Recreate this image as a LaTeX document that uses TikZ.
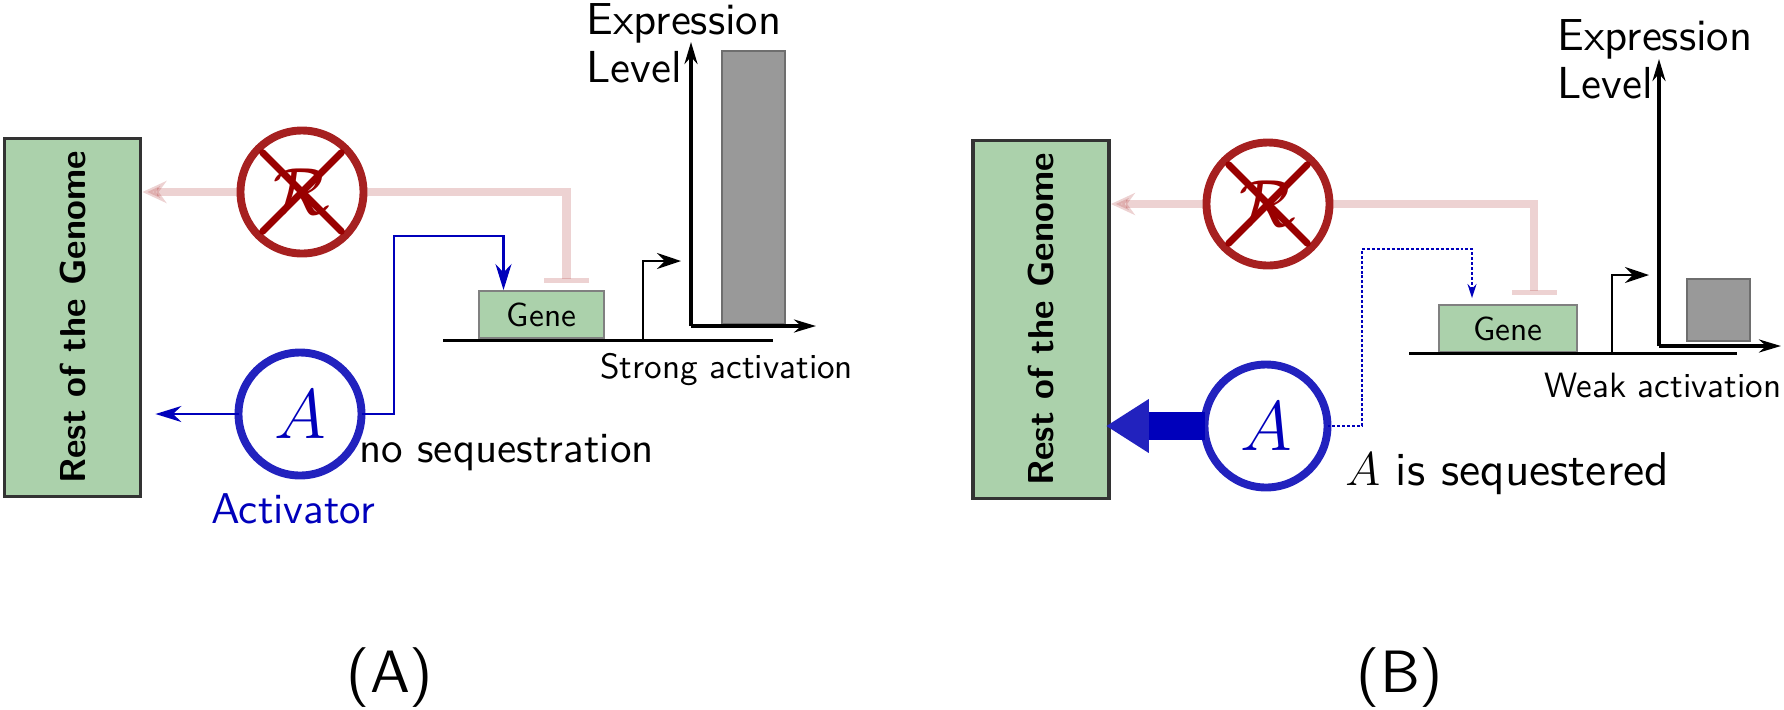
\RequirePackage{fix-cm}
\documentclass[tikz,border=0pt]{standalone}
\usepackage{amsmath}
\usepackage{fontspec}
\setsansfont{lmsans10-regular.otf}[BoldFont=lmsans10-bold.otf, Ligatures=TeX]
\usepackage{graphicx}
\usepackage{xcolor}
\usepackage{tikz}
\usetikzlibrary{positioning, arrows.meta, calc}
\renewcommand{\familydefault}{\sfdefault}

\definecolor{genomegreen}{RGB}{171,209,171}
\definecolor{boxedge}{RGB}{51,51,51}
\definecolor{geneedge}{RGB}{128,128,128}
\definecolor{repred}{RGB}{166,32,32}
\definecolor{crossred}{RGB}{153,0,0}
\definecolor{actblue}{RGB}{34,34,190}
\definecolor{lineblue}{RGB}{0,0,187}
\definecolor{bargray}{RGB}{153,153,153}
\definecolor{baredge}{RGB}{110,110,110}

\begin{document}
\begin{tikzpicture}[x=0.2mm, y=-0.2mm,
  genome/.style={draw=boxedge, fill=genomegreen, line width=2.2pt, minimum width=27.2mm, minimum height=71.6mm, inner sep=0pt, font=\fontsize{20.5}{24}\selectfont\bfseries},
  genebox/.style={draw=geneedge, fill=genomegreen, line width=1.1pt, minimum height=9.4mm, inner sep=0pt, font=\fontsize{19}{22}\selectfont},
  repressor/.style={circle, draw=repred, line width=4.5pt, minimum size=24.6mm, inner sep=0pt, outer sep=0pt, text=crossred, font=\fontsize{38}{40}\selectfont},
  activator/.style={circle, draw=actblue, line width=4.5pt, minimum size=24.6mm, inner sep=0pt, outer sep=0pt, text=lineblue, font=\fontsize{40}{42}\selectfont},
  crossline/.style={crossred, line width=4pt, line cap=round, shorten <=1.2mm, shorten >=1.2mm},
  inhibit/.style={repred, opacity=0.2, line width=5pt},
  actline/.style={lineblue, line width=1.3pt, -{Stealth[length=5.2mm, width=3.2mm]}},
  seqline/.style={lineblue, line width=1.1pt, dash pattern=on 1.7pt off 1.1pt, -{Stealth[length=2.8mm, width=1.8mm]}},
  seqarrow/.style={lineblue, line width=15.9pt, -{Triangle[length=8.6mm, width=10.2mm, color=actblue]}},
  dna/.style={black, line width=1.7pt},
  promoter/.style={black, line width=1.6pt, -{Stealth[length=4.8mm, width=3.2mm]}},
  axis/.style={black, line width=2pt, -{Stealth[length=4.4mm, width=2.6mm]}},
  bar/.style={draw=baredge, fill=bargray, line width=0.8pt},
  smalllabel/.style={inner sep=0pt, anchor=base west, font=\fontsize{20}{24}\selectfont},
  axislabel/.style={inner sep=0pt, anchor=base west, font=\fontsize{25.5}{28}\selectfont},
  biglabel/.style={inner sep=0pt, anchor=base west, font=\fontsize{24.5}{28}\selectfont},
  panellabel/.style={inner sep=0pt, anchor=base, font=\fontsize{34}{38}\selectfont}]

  \useasboundingbox (0,0) rectangle (1784,709);

  % ---------- Panel (A) ----------
  \node[genome] (genomeA) at (72.5,317.5) {\rotatebox{90}{Rest of the Genome}};
  \node[repressor] (repA) at (302,192) {$\mathcal{R}$};
  \node[activator] (actA) at (300,414) {$A$};
  \node[genebox, minimum width=25mm] (geneA) at (541.5,314.5) {Gene};

  % crossed out repressor
  \draw[crossline] (repA.135) -- (repA.-45);
  \draw[crossline] (repA.45) -- (repA.-135);

  % faded repressor links
  \draw[inhibit, -{Stealth[length=4.8mm, width=4.4mm]}] (repA.west) -- (repA.west -| genomeA.east);
  \draw[inhibit, -{Bar[width=9mm, line width=2.8pt]}] (repA.east) -| ([xshift=5mm, yshift=1.4mm]geneA.north);

  % activator links
  \coordinate (bendA) at (394,236);
  \draw[actline, shorten >=2.6mm] (actA.west) -- (actA.west -| genomeA.east);
  \draw[actline] (actA.east) -| (bendA) -| ([xshift=-7.6mm]geneA.north);

  % DNA and promoter
  \coordinate (dnaA0) at (443,340);
  \coordinate (dnaA1) at (773,340);
  \coordinate (promA) at (643,340);
  \coordinate (tssA) at (681,261);
  \draw[dna] (dnaA0) -- (dnaA1);
  \draw[promoter] (promA) |- (tssA);

  % expression axes and bar
  \coordinate (originA) at (691,326);
  \coordinate (yA) at (691,42);
  \coordinate (xA) at (816,326);
  \draw[bar] (722,51) rectangle (785,324);
  \draw[axis] (originA) -- (yA);
  \draw[axis] (originA) -- (xA);

  % labels
  \node[axislabel] (exprA) at (586,34) {Expression};
  \node[axislabel] (levelA) at (586,82) {Level};
  \node[smalllabel] (strongA) at (600,378) {Strong activation};
  \node[biglabel] (noseqA) at (359,462) {no sequestration};
  \node[biglabel, text=lineblue] (actnameA) at (211,523) {Activator};
  \node[panellabel] (panelA) at (390,692) {(A)};

  % ---------- Panel (B) ----------
  \node[genome] (genomeB) at (1041,319.5) {\rotatebox{90}{Rest of the Genome}};
  \node[repressor] (repB) at (1268,204) {$\mathcal{R}$};
  \node[activator] (actB) at (1266,426) {$A$};
  \node[genebox, minimum width=27.6mm] (geneB) at (1508,328.5) {Gene};

  % crossed out repressor
  \draw[crossline] (repB.135) -- (repB.-45);
  \draw[crossline] (repB.45) -- (repB.-135);

  % faded repressor links
  \draw[inhibit, -{Stealth[length=4.8mm, width=4.4mm]}] (repB.west) -- (repB.west -| genomeB.east);
  \draw[inhibit, -{Bar[width=9mm, line width=2.8pt]}] (repB.east) -| ([xshift=5.2mm, yshift=1.8mm]geneB.north);

  % sequestered activator
  \coordinate (bendB) at (1362,249);
  \draw[seqarrow, shorten >=-1mm] (actB.west) -- (actB.west -| genomeB.east);
  \draw[seqline, shorten >=1.2mm] (actB.east) -| (bendB) -| ([xshift=-7.2mm]geneB.north);

  % DNA and promoter
  \coordinate (dnaB0) at (1409,353);
  \coordinate (dnaB1) at (1737,353);
  \coordinate (promB) at (1612,353);
  \coordinate (tssB) at (1649,275);
  \draw[dna] (dnaB0) -- (dnaB1);
  \draw[promoter] (promB) |- (tssB);

  % expression axes and bar
  \coordinate (originB) at (1659,346);
  \coordinate (yB) at (1659,59);
  \coordinate (xB) at (1781,346);
  \draw[bar] (1687,279) rectangle (1750,341);
  \draw[axis] (originB) -- (yB);
  \draw[axis] (originB) -- (xB);

  % labels
  \node[axislabel] (exprB) at (1557,50) {Expression};
  \node[axislabel] (levelB) at (1557,98) {Level};
  \node[smalllabel] (weakB) at (1544,397) {Weak activation};
  \node[biglabel, font=\fontsize{27}{30}\selectfont] (seqB) at (1345,485) {$A$ is sequestered};
  \node[panellabel] (panelB) at (1400,692) {(B)};
\end{tikzpicture}
\end{document}
